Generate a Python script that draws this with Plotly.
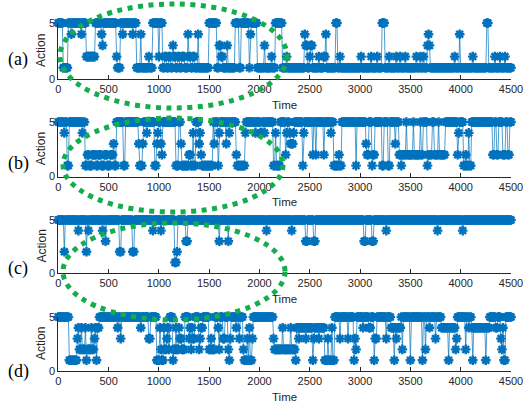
import numpy as np
import plotly.graph_objects as go

# Action sequences as change points: (time at which the action starts, action).
# Each action holds until the next change point.
CHANGES_A = [
    (0, 5), (50, 1), (100, 5), (130, 4), (140, 5), (230, 4), (240, 5), (280, 2), (370, 5),
    (430, 4), (440, 3), (450, 5), (580, 2), (590, 1), (620, 5), (640, 4), (650, 5), (740, 4),
    (750, 5), (780, 1), (820, 4), (830, 1), (900, 2), (910, 1), (940, 5), (1000, 2), (1010, 5),
    (1040, 1), (1060, 2), (1080, 1), (1100, 2), (1120, 1), (1140, 3), (1150, 2), (1170, 1),
    (1190, 2), (1210, 1), (1230, 2), (1260, 1), (1290, 4), (1300, 2), (1320, 1), (1340, 2),
    (1360, 1), (1390, 4), (1400, 1), (1500, 5), (1580, 1), (1600, 3), (1620, 2), (1640, 1),
    (1680, 3), (1690, 1), (1760, 5), (1800, 1), (1820, 5), (1900, 1), (1910, 4), (1920, 5),
    (1980, 1), (2050, 3), (2060, 1), (2120, 2), (2130, 1), (2160, 5), (2230, 1), (2270, 2),
    (2280, 1), (2450, 4), (2460, 3), (2480, 1), (2500, 2), (2510, 3), (2530, 1), (2590, 2),
    (2600, 1), (2640, 2), (2660, 4), (2670, 1), (2760, 5), (2780, 1), (2800, 2), (2810, 1),
    (3010, 2), (3020, 1), (3110, 2), (3120, 1), (3170, 2), (3180, 1), (3220, 5), (3250, 1),
    (3290, 2), (3300, 1), (3360, 2), (3370, 1), (3400, 2), (3410, 1), (3450, 2), (3460, 1),
    (3560, 2), (3570, 1), (3600, 2), (3610, 1), (3630, 2), (3640, 1), (3670, 3), (3680, 4),
    (3690, 3), (3700, 1), (3940, 2), (3950, 1), (3990, 4), (4000, 1), (4120, 2), (4130, 1),
    (4260, 5), (4280, 1), (4340, 2), (4350, 1), (4390, 2), (4400, 1), (4440, 2), (4450, 1),
]

CHANGES_B = [
    (0, 5), (60, 4), (70, 5), (90, 1), (110, 5), (240, 4), (250, 5), (270, 1), (290, 2),
    (310, 1), (340, 2), (380, 1), (400, 2), (430, 1), (460, 2), (490, 1), (520, 2), (550, 3),
    (560, 1), (580, 5), (650, 1), (670, 5), (800, 3), (810, 1), (840, 3), (850, 5), (880, 4),
    (890, 5), (960, 1), (980, 3), (990, 4), (1000, 5), (1020, 3), (1030, 2), (1040, 5),
    (1170, 1), (1200, 5), (1220, 3), (1230, 1), (1300, 2), (1320, 1), (1340, 4), (1350, 1),
    (1370, 5), (1400, 3), (1410, 4), (1420, 2), (1430, 1), (1540, 5), (1550, 3), (1560, 5),
    (1590, 1), (1600, 4), (1610, 5), (1670, 3), (1680, 5), (1700, 4), (1710, 5), (1770, 2),
    (1780, 1), (1860, 4), (1870, 5), (1960, 4), (1970, 5), (2010, 4), (2030, 5), (2050, 4),
    (2060, 5), (2140, 1), (2160, 4), (2170, 1), (2210, 5), (2260, 2), (2270, 4), (2280, 5),
    (2300, 4), (2310, 3), (2340, 4), (2350, 5), (2430, 1), (2440, 4), (2450, 5), (2530, 2),
    (2540, 5), (2560, 2), (2570, 5), (2640, 2), (2650, 5), (2710, 4), (2720, 5), (2740, 1),
    (2790, 2), (2800, 1), (2820, 5), (2960, 1), (2970, 5), (3060, 3), (3070, 2), (3090, 5),
    (3120, 1), (3130, 2), (3150, 5), (3220, 1), (3240, 5), (3280, 1), (3300, 5), (3350, 3),
    (3360, 5), (3390, 2), (3410, 1), (3420, 2), (3460, 5), (3470, 2), (3530, 5), (3540, 2),
    (3600, 5), (3610, 2), (3630, 5), (3670, 1), (3680, 2), (3720, 5), (3740, 2), (3780, 5),
    (3790, 2), (3850, 5), (3970, 2), (3980, 4), (3990, 5), (4030, 1), (4050, 2), (4060, 1),
    (4080, 4), (4090, 1), (4110, 5), (4320, 2), (4340, 5), (4360, 2), (4380, 5), (4420, 2),
    (4450, 5), (4470, 2), (4490, 5),
]

CHANGES_C = [
    (0, 5), (60, 2), (70, 5), (200, 4), (210, 5), (280, 2), (290, 5), (300, 4), (310, 5),
    (440, 4), (450, 5), (470, 3), (480, 5), (610, 2), (630, 5), (740, 2), (760, 5), (940, 4),
    (950, 5), (1020, 4), (1030, 5), (1160, 1), (1180, 2), (1190, 5), (1270, 3), (1290, 5),
    (1600, 3), (1610, 5), (1690, 3), (1700, 5), (2070, 4), (2080, 5), (2320, 4), (2330, 5),
    (2460, 3), (2480, 5), (2540, 3), (2560, 5), (3040, 3), (3060, 5), (3120, 3), (3140, 5),
    (3260, 4), (3270, 5), (3770, 4), (3780, 5), (4020, 4), (4030, 5),
]

CHANGES_D = [
    (0, 5), (110, 1), (190, 3), (200, 4), (210, 2), (230, 4), (240, 2), (270, 4), (280, 1),
    (290, 2), (330, 4), (340, 2), (360, 3), (370, 4), (380, 1), (390, 4), (410, 5), (590, 4),
    (600, 5), (620, 3), (630, 5), (820, 4), (830, 5), (900, 3), (920, 5), (980, 1), (1010, 4),
    (1020, 2), (1030, 1), (1050, 4), (1060, 2), (1080, 3), (1090, 4), (1100, 2), (1110, 5),
    (1140, 1), (1150, 2), (1170, 4), (1180, 2), (1200, 4), (1210, 3), (1230, 2), (1260, 5),
    (1300, 3), (1310, 4), (1320, 2), (1330, 4), (1340, 3), (1360, 5), (1400, 2), (1410, 3),
    (1420, 4), (1440, 5), (1500, 2), (1520, 3), (1530, 2), (1560, 5), (1590, 4), (1600, 2),
    (1610, 5), (1640, 3), (1660, 5), (1690, 2), (1700, 1), (1710, 3), (1720, 5), (1770, 4),
    (1780, 5), (1800, 3), (1810, 5), (1840, 2), (1850, 1), (1880, 3), (1890, 1), (1900, 4),
    (1910, 1), (1930, 3), (1940, 5), (2140, 3), (2150, 2), (2230, 4), (2240, 2), (2310, 4),
    (2320, 2), (2360, 1), (2370, 4), (2390, 3), (2400, 4), (2460, 3), (2470, 4), (2530, 1),
    (2540, 3), (2550, 4), (2590, 3), (2600, 4), (2650, 1), (2680, 3), (2690, 1), (2720, 4),
    (2730, 1), (2750, 5), (2800, 3), (2810, 5), (2880, 3), (2890, 5), (2940, 1), (2950, 3),
    (2960, 2), (2970, 5), (3030, 4), (3040, 5), (3090, 4), (3110, 5), (3140, 1), (3150, 3),
    (3170, 5), (3260, 3), (3270, 5), (3310, 4), (3340, 1), (3350, 4), (3360, 3), (3370, 4),
    (3410, 5), (3420, 2), (3430, 5), (3500, 1), (3510, 5), (3620, 1), (3630, 5), (3650, 2),
    (3660, 5), (3690, 4), (3700, 5), (3750, 3), (3760, 5), (3810, 4), (3880, 1), (3890, 4),
    (3950, 2), (3960, 3), (3970, 5), (4050, 2), (4060, 5), (4080, 4), (4090, 5), (4110, 4),
    (4120, 1), (4130, 4), (4250, 1), (4260, 4), (4290, 5), (4350, 4), (4370, 5), (4400, 3),
    (4410, 2), (4420, 4), (4430, 1), (4450, 5),
]

PANEL_LABELS = ["(a)", "(b)", "(c)", "(d)"]
X_TICKS = [0, 500, 1000, 1500, 2000, 2500, 3000, 3500, 4000, 4500]
Y_TICKS = [0, 5]
SAMPLE_STEP = 10
T_END = 4500

W, H = 523, 402
BLUE = "#0072BD"
AXIS_GREY = "#262626"
GREEN = "#13AD4B"


def sample(changes):
    starts = np.array([c[0] for c in changes])
    acts = np.array([c[1] for c in changes])
    t = np.arange(0, T_END + 1, SAMPLE_STEP)
    idx = np.searchsorted(starts, t, side="right") - 1
    return t, acts[idx]


def py(px):
    return 1 - px / H


def pxx(px):
    return px / W


# pixel geometry of each panel: (top of y=5, bottom y=0)
panel_px = [(23, 79), (122, 176.5), (220, 273), (317, 371)]
x_left, x_right = 58.3, 511
series = [CHANGES_A, CHANGES_B, CHANGES_C, CHANGES_D]

fig = go.Figure()
layout = dict(
    width=W, height=H,
    margin=dict(l=0, r=0, t=0, b=0, autoexpand=False),
    paper_bgcolor="white", plot_bgcolor="white",
    showlegend=False,
    font=dict(family="Liberation Sans, Arial, sans-serif", size=11, color=AXIS_GREY),
)

annotations = []
for i, (changes, (top, bot)) in enumerate(zip(series, panel_px)):
    n = "" if i == 0 else str(i + 1)
    t, act = sample(changes)
    fig.add_trace(go.Scatter(
        x=t, y=act, mode="lines+markers",
        xaxis="x" + n, yaxis="y" + n,
        line=dict(color=BLUE, width=0.7),
        marker=dict(symbol="asterisk-open", size=8, color=BLUE,
                    line=dict(color=BLUE, width=2.4)),
        cliponaxis=False, hoverinfo="skip",
    ))
    layout["xaxis" + n] = dict(
        domain=[pxx(x_left), pxx(x_right)], range=[0, T_END], anchor="y" + n,
        tickvals=X_TICKS, ticktext=[str(v) for v in X_TICKS],
        ticks="inside", ticklen=4, tickwidth=1, tickcolor=AXIS_GREY,
        showline=True, linecolor=AXIS_GREY, linewidth=1,
        showgrid=False, zeroline=False, ticklabeloverflow="allow",
        automargin=False,
        tickfont=dict(size=11, color=AXIS_GREY),
    )
    layout["yaxis" + n] = dict(
        domain=[py(bot), py(top)], range=[0, 5], anchor="x" + n,
        tickvals=Y_TICKS, ticktext=[str(v) for v in Y_TICKS],
        ticks="inside", ticklen=4, tickwidth=1, tickcolor=AXIS_GREY,
        showline=True, linecolor=AXIS_GREY, linewidth=1,
        showgrid=False, zeroline=False, ticklabeloverflow="allow",
        automargin=False,
        tickfont=dict(size=11, color=AXIS_GREY),
    )
    mid = (top + bot) / 2
    annotations.append(dict(
        text="Action", x=pxx(41), y=py(mid), xref="paper", yref="paper",
        textangle=-90, showarrow=False, xanchor="center", yanchor="middle",
        font=dict(size=12, color=AXIS_GREY),
    ))
    annotations.append(dict(
        text="Time", x=pxx((x_left + x_right) / 2), y=py(bot + 26),
        xref="paper", yref="paper", showarrow=False,
        xanchor="center", yanchor="middle",
        font=dict(size=11.5, color=AXIS_GREY),
    ))

label_y = [60, 164, 268, 371]
for lab, ly in zip(PANEL_LABELS, label_y):
    annotations.append(dict(
        text=lab, x=pxx(18), y=py(ly), xref="paper", yref="paper",
        showarrow=False, xanchor="center", yanchor="middle",
        font=dict(family="Liberation Serif, Times New Roman, serif", size=18, color="black"),
    ))

layout["annotations"] = annotations

# dotted ellipses highlighting the early part of panels (a)-(c)
ellipses = [(60, 4, 287, 108), (63, 118, 283, 212), (63, 223, 285, 320)]
layout["shapes"] = [
    dict(type="circle", xref="paper", yref="paper",
         x0=pxx(x0), x1=pxx(x1), y0=py(y1), y1=py(y0),
         line=dict(color=GREEN, width=5, dash="5px,5.5px"), layer="above")
    for x0, y0, x1, y1 in ellipses
]

fig.update_layout(**layout)
fig.write_html("out.html")
